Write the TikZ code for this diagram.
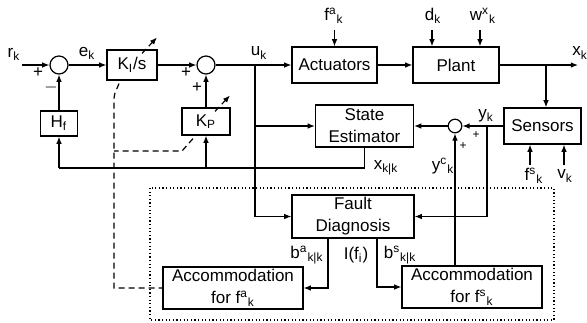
\documentclass[tikz,border=0pt]{standalone}
\usepackage{fontspec}
\setmainfont{Liberation Sans}
\usetikzlibrary{arrows.meta,calc}
\tikzset{
  blk/.style={draw, line width=0.6pt, inner sep=0pt, align=center},
  sumc/.style={draw, circle, line width=0.6pt, inner sep=0pt},
  lbl/.style={inner sep=0pt},
  conn/.style={line width=0.6pt},
  arr/.style={conn, -{Latex[length=3.6pt,width=2.8pt]}},
  dsh/.style={conn, dash pattern=on 3pt off 2pt},
  dotbox/.style={line width=0.6pt, dash pattern=on 0.6pt off 1.2pt}
}
\begin{document}
\begin{tikzpicture}[x=0.5pt,y=-0.5pt,font=\fontsize{8.5}{11}\selectfont]
\useasboundingbox (0,0) rectangle (587,322);
% blocks
\node[sumc, minimum size=9pt] (s1) at (59,65) {};
\node[sumc, minimum size=9pt] (s2) at (206,65) {};
\node[sumc, minimum size=6.8pt] (s3) at (455,126) {};
\node[blk, minimum width=25pt, minimum height=15pt] (KI) at (132,65) {K\textsubscript{I}/s};
\node[blk, minimum width=24pt, minimum height=13.5pt] (KP) at (206,121.5) {K\textsubscript{P}};
\node[blk, minimum width=18.5pt, minimum height=12.5pt] (Hf) at (59,123.5) {H\textsubscript{f}};
\node[blk, minimum width=42.5pt, minimum height=18pt] (Act) at (334.5,65) {Actuators};
\node[blk, minimum width=43pt, minimum height=18pt] (Plant) at (456,65) {Plant};
\node[blk, minimum width=38.5pt, minimum height=18pt] (Sens) at (542.5,126) {Sensors};
\node[blk, minimum width=49pt, minimum height=21pt] (SE) at (364.5,126) {State\\Estimator};
\node[blk, minimum width=61pt, minimum height=21.5pt] (FD) at (353,216.5) {Fault\\Diagnosis};
\node[blk, minimum width=70pt, minimum height=21pt] (AccA) at (233,288) {Accommodation\\for f\textsuperscript{a}\textsubscript{k}};
\node[blk, minimum width=70pt, minimum height=21pt] (AccS) at (472,287) {Accommodation\\for f\textsuperscript{s}\textsubscript{k}};
% dotted region
\draw[dotbox] (150,188) rectangle (554,320);
% coordinates
\coordinate (rin) at (22,65);
\coordinate (u1) at (255,65);
\coordinate (xout) at (578,65);
\coordinate (br) at (546,65);
\coordinate (yb) at (487,126);
\coordinate (fb) at (364.5,168);
\coordinate (fa) at (334.5,30);
\coordinate (dk) at (432,30);
\coordinate (wk) at (480,30);
\coordinate (fs) at (530,165);
\coordinate (vk) at (564,165);
% main path
\draw[arr] (rin) -- (s1.west);
\draw[arr] (s1.east) -- (KI.west);
\draw[arr] (KI.east) -- (s2.west);
\draw[arr] (s2.east) -- (Act.west);
\draw[arr] (Act.east) -- (Plant.west);
\draw[arr] (Plant.east) -- (xout);
\draw[arr] (br) -- (br |- Sens.north);
\draw[arr] (fa) -- (Act.north);
\draw[arr] (dk) -- (dk |- Plant.north);
\draw[arr] (wk) -- (wk |- Plant.north);
\draw[arr] (fs) -- (fs |- Sens.south);
\draw[arr] (vk) -- (vk |- Sens.south);
% sensors to estimator
\draw[arr] (Sens.west) -- (s3.east);
\draw[arr] (s3.west) -- (SE.east);
\draw[arr] (yb) |- (FD.east);
\draw[arr] (AccS.north -| s3) -- (s3.south);
% control to estimator / FD
\draw[arr] (u1) |- (FD.west);
\draw[arr] (u1 |- SE.west) -- (SE.west);
% feedback
\draw[conn] (SE.south) |- (Hf.south |- fb);
\draw[arr] (Hf.south |- fb) -- (Hf.south);
\draw[arr] (KP.south |- fb) -- (KP.south);
\draw[arr] (Hf.north) -- (s1.south);
\draw[arr] (KP.north) -- (s2.south);
% FD to accommodation
\draw[arr] ([xshift=-12.5pt]FD.south) |- (AccA.east);
\draw[arr] ([xshift=12pt]FD.south) |- (AccS.west);
% dashed adaptation lines
\draw[dsh] ([xshift=-6.5pt,yshift=-1.5pt]KI.south) to[out=-110,in=90] (114,99) -- (114,288) -- (AccA.west);
\draw[dsh] ([xshift=-6.5pt,yshift=-1.5pt]KP.south) -- (182,151) -- (114,151);
\draw[dsh,-{Latex[length=3.6pt,width=2.8pt]}] ([xshift=5pt,yshift=-2pt]KI.north) -- ++(15,-16);
\draw[dsh,-{Latex[length=3.6pt,width=2.8pt]}] ([xshift=4.5pt,yshift=-2pt]KP.north) -- ++(15,-16);
% labels
\node[lbl] at (14,54) {r\textsubscript{k}};
\node[lbl] at (38,73) {+};
\node[lbl] at (51,87) {$-$};
\node[lbl] at (87,53) {e\textsubscript{k}};
\node[lbl] at (186,73) {+};
\node[lbl] at (197,88) {+};
\node[lbl] at (259,53) {u\textsubscript{k}};
\node[lbl] at (334,16) {f\textsuperscript{a}\textsubscript{k}};
\node[lbl] at (433,16) {d\textsubscript{k}};
\node[lbl] at (483,16) {w\textsuperscript{x}\textsubscript{k}};
\node[lbl] at (580,53) {x\textsubscript{k}};
\node[lbl] at (486,116) {y\textsubscript{k}};
\node[lbl] at (476,135) {\fontsize{6}{6}\selectfont +};
\node[lbl] at (463,146) {\fontsize{6}{6}\selectfont +};
\node[lbl] at (443,166) {y\textsuperscript{c}\textsubscript{k}};
\node[lbl] at (386,168) {x\textsubscript{k|k}};
\node[lbl] at (534,176) {f\textsuperscript{s}\textsubscript{k}};
\node[lbl] at (565,176) {v\textsubscript{k}};
\node[lbl] at (307,255) {b\textsuperscript{a}\textsubscript{k|k}};
\node[lbl] at (356,255) {I(f\textsubscript{i})};
\node[lbl] at (400,255) {b\textsuperscript{s}\textsubscript{k|k}};
\end{tikzpicture}
\end{document}
